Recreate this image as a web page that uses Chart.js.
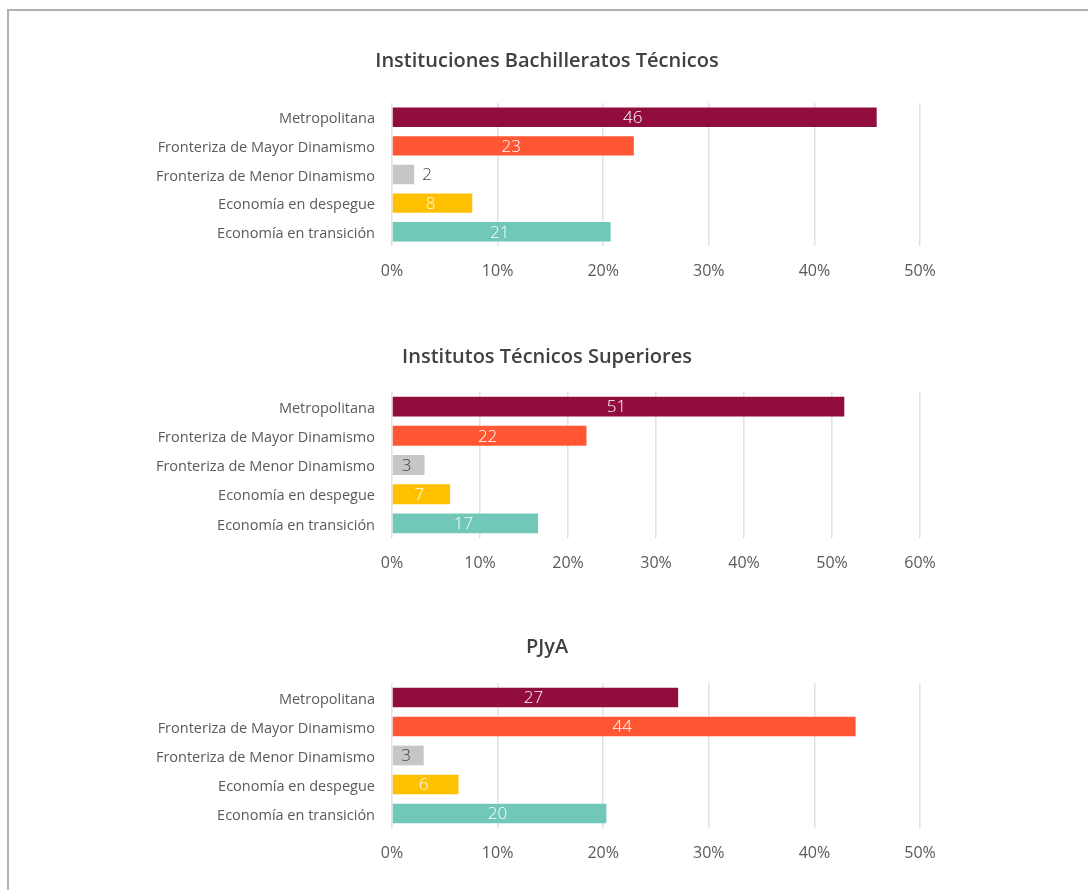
<!DOCTYPE html>
<html lang="es">
<head>
<meta charset="utf-8">
<title>Instituciones por región</title>
<script src="https://cdn.jsdelivr.net/npm/chart.js@4.4.1/dist/chart.umd.min.js"></script>
<style>
  html, body { margin: 0; padding: 0; background: #fff; overflow: hidden; }
  #marco { position: absolute; left: 7px; top: 9px; width: 1100px; height: 900px; border: 2px solid #b0b0b0; }
  .panel { position: absolute; left: 0; width: 1088px; }
</style>
</head>
<body>
<div id="marco"></div>
<div class="panel" style="top:40px;height:246px"><canvas id="graficoBachilleratos"></canvas></div>
<div class="panel" style="top:336px;height:242px"><canvas id="graficoInstitutos"></canvas></div>
<div class="panel" style="top:626px;height:242px"><canvas id="graficoPJyA"></canvas></div>
<script>
  // Datos
  const categorias = ['Metropolitana', 'Fronteriza de Mayor Dinamismo', 'Fronteriza de Menor Dinamismo', 'Economía en despegue', 'Economía en transición'];
  const colores = ['#910D3D', '#FF5733', '#C6C6C6', '#FFC000', '#71C7B8'];
  const coloresTexto = ['#ffffff', '#ffffff', '#404040', '#ffffff', '#ffffff'];

  const valoresBachilleratos = [45.9, 22.9, 2.1, 7.6, 20.7];
  const etiquetasBachilleratos = [46, 23, 2, 8, 21];
  const valoresInstitutos = [51.4, 22.1, 3.7, 6.6, 16.6];
  const etiquetasInstitutos = [51, 22, 3, 7, 17];
  const valoresPJyA = [27.1, 43.9, 3.0, 6.3, 20.3];
  const etiquetasPJyA = [27, 44, 3, 6, 20];

  // Plugin para escribir el valor de cada barra
  const etiquetasBarras = {
    id: 'etiquetasBarras',
    afterLayout(chart) {
      // centrar el título en toda la página, no solo en la zona del gráfico
      if (chart.titleBlock) {
        chart.titleBlock.left = 6;
        chart.titleBlock.right = 1088;
      }
    },
    afterDatasetsDraw(chart) {
      let ctx = chart.ctx;
      let meta = chart.getDatasetMeta(0);
      let textos = chart.data.datasets[0].etiquetas;
      ctx.save();
      ctx.font = '300 17px "Open Sans"';
      ctx.textBaseline = 'middle';
      meta.data.forEach((barra, i) => {
        let txt = String(textos[i]);
        let ancho = barra.x - barra.base;
        let w = ctx.measureText(txt).width;
        if (ancho < w + 16) {
          ctx.textAlign = 'left';
          ctx.fillStyle = '#404040';
          ctx.fillText(txt, barra.x + 8, barra.y + 1);
        } else {
          ctx.textAlign = 'center';
          ctx.fillStyle = coloresTexto[i];
          ctx.fillText(txt, (barra.x + barra.base) / 2 - 2, barra.y + 1);
        }
      });
      ctx.restore();
    }
  };

  function crearGrafico(id, titulo, valores, etiquetas, maximo, espacioTitulo) {
    let ctx = document.getElementById(id).getContext('2d');
    return new Chart(ctx, {
      type: 'bar',
      data: {
        labels: categorias,
        datasets: [{
          data: valores,
          etiquetas: etiquetas,
          backgroundColor: colores,
          borderWidth: 0,
          categoryPercentage: 1,
          barPercentage: 0.68
        }]
      },
      options: {
        indexAxis: 'y',
        responsive: true,
        maintainAspectRatio: false,
        animation: false,
        layout: { padding: { left: 0, right: 168, top: 0, bottom: 0 } },
        plugins: {
          legend: { display: false },
          tooltip: { enabled: false },
          title: {
            display: true,
            text: titulo,
            color: '#404040',
            font: { family: '"Open Sans"', size: 20, weight: '600', lineHeight: 1.2 },
            padding: { top: 9, bottom: espacioTitulo }
          }
        },
        scales: {
          x: {
            min: 0,
            max: maximo,
            ticks: {
              stepSize: 10,
              padding: 16,
              color: '#595959',
              font: { family: '"Open Sans"', size: 16 },
              callback: v => v + '%'
            },
            grid: { color: '#e2e2e2', lineWidth: 1.5, drawTicks: false },
            border: { display: false },
            afterFit: s => { s.height = 40; }
          },
          y: {
            ticks: {
              padding: 9,
              labelOffset: 2,
              color: '#5a5a5a',
              font: { family: '"Open Sans"', size: 14.5 }
            },
            grid: { display: false },
            border: { display: false },
            afterFit: s => { s.width = 392; }
          }
        }
      },
      plugins: [etiquetasBarras]
    });
  }

  crearGrafico('graficoBachilleratos', 'Instituciones Bachilleratos Técnicos', valoresBachilleratos, etiquetasBachilleratos, 50, 30);
  crearGrafico('graficoInstitutos', 'Institutos Técnicos Superiores', valoresInstitutos, etiquetasInstitutos, 60, 23);
  crearGrafico('graficoPJyA', 'PJyA', valoresPJyA, etiquetasPJyA, 50, 24);
</script>
</body>
</html>
